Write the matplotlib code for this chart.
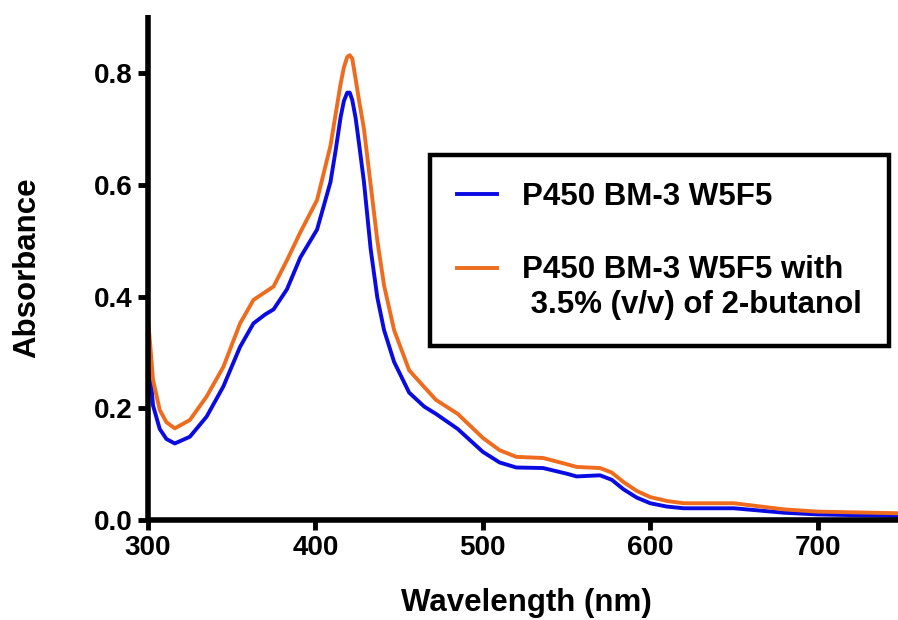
import matplotlib
matplotlib.use("Agg")
import matplotlib.pyplot as plt

plt.rcParams["font.family"] = ["Liberation Sans", "DejaVu Sans"]
plt.rcParams["font.weight"] = "bold"

# Wavelength (nm) and absorbance
wavelength = [300, 303, 307, 311, 316, 325, 335, 345, 355, 363, 370, 375, 383, 391,
              401, 409, 412, 415, 417, 419, 420.5, 422, 424, 426, 429, 433, 437, 441,
              447, 456, 465, 472, 485, 500, 510, 520, 536, 550, 556, 570, 577, 584,
              592, 600, 610, 620, 650, 680, 700, 750]
abs_w5f5 = [0.313, 0.205, 0.163, 0.145, 0.137, 0.149, 0.185, 0.239, 0.310, 0.352,
            0.368, 0.377, 0.413, 0.470, 0.520, 0.605, 0.660, 0.720, 0.750, 0.765,
            0.765, 0.752, 0.720, 0.675, 0.605, 0.485, 0.398, 0.340, 0.283, 0.228,
            0.203, 0.190, 0.163, 0.122, 0.103, 0.094, 0.093, 0.083, 0.078, 0.080,
            0.072, 0.055, 0.040, 0.030, 0.024, 0.021, 0.021, 0.013, 0.010, 0.007]
abs_butanol = [0.362, 0.251, 0.197, 0.175, 0.164, 0.179, 0.221, 0.274, 0.352, 0.394,
               0.408, 0.418, 0.465, 0.515, 0.573, 0.670, 0.725, 0.780, 0.810, 0.829,
               0.832, 0.826, 0.790, 0.752, 0.700, 0.600, 0.500, 0.420, 0.340, 0.268,
               0.238, 0.215, 0.190, 0.147, 0.125, 0.113, 0.111, 0.100, 0.095, 0.093,
               0.085, 0.068, 0.052, 0.041, 0.034, 0.030, 0.030, 0.019, 0.015, 0.012]

labels = ["P450 BM-3 W5F5", "P450 BM-3 W5F5 with\n 3.5% (v/v) of 2-butanol"]
colors = ["#0a0ae2", "#ef6c1f"]

fig = plt.figure(figsize=(8.98, 6.2), dpi=100)
ax = fig.add_axes([148 / 898, 100 / 620, 750 / 898, 505 / 620])

ax.plot(wavelength, abs_w5f5, color=colors[0], lw=2.8, label=labels[0],
        solid_joinstyle="round")
ax.plot(wavelength, abs_butanol, color=colors[1], lw=2.8, label=labels[1],
        solid_joinstyle="round")

ax.set_xlim(300, 748)
ax.set_ylim(0, 0.904)
ax.set_xticks([300, 400, 500, 600, 700])
ax.set_yticks([0.0, 0.2, 0.4, 0.6, 0.8])
ax.set_yticklabels(["0.0", "0.2", "0.4", "0.6", "0.8"])

for s in ["top", "right"]:
    ax.spines[s].set_visible(False)
for s in ["left", "bottom"]:
    ax.spines[s].set_linewidth(4)
    ax.spines[s].set_capstyle("butt")

ax.tick_params(axis="both", direction="out", length=7, width=3.5,
               labelsize=20, pad=4)
for lab in ax.get_xticklabels() + ax.get_yticklabels():
    lab.set_fontweight("bold")

fig.text(27 / 898, 1 - 268 / 620, "Absorbance", rotation=90, ha="center",
         va="center", fontsize=22.5, fontweight="bold")
fig.text(526 / 898, 1 - 603 / 620, "Wavelength (nm)", ha="center",
         va="center", fontsize=22.5, fontweight="bold")

leg = ax.legend(loc="upper left", bbox_to_anchor=((430 - 148) / 750, (520 - 155) / 505),
                borderaxespad=0, frameon=True, fancybox=False, framealpha=1,
                handlelength=1.3, handletextpad=0.8, borderpad=0.85,
                labelspacing=1.4, prop={"size": 22.5, "weight": "bold"})
leg.get_frame().set_edgecolor("black")
leg.get_frame().set_linewidth(3.2)
handles = leg.get_lines()
for line in handles:
    line.set_linewidth(2.8)
# second entry: put its line beside the first text row, as in the original
handles[1].set_ydata([y + 14.4 for y in handles[1].get_ydata()])

fig.savefig("out.png", dpi=100)
